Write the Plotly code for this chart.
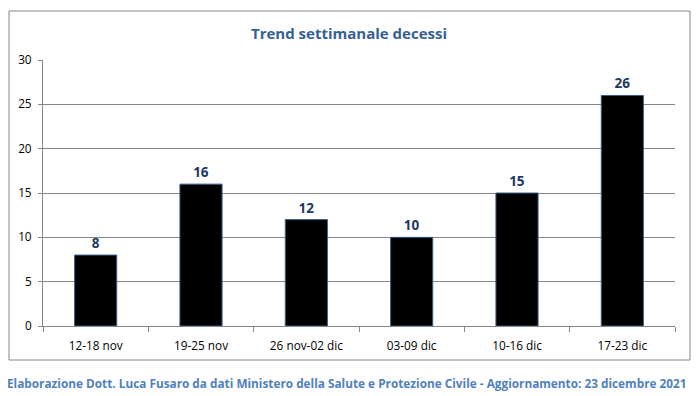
import plotly.graph_objects as go

categories = ["12-18 nov", "19-25 nov", "26 nov-02 dic", "03-09 dic", "10-16 dic", "17-23 dic"]
deaths = [8, 16, 12, 10, 15, 26]
y_ticks = [0, 5, 10, 15, 20, 25, 30]

FONT = "Open Sans"
OFF = 8  # default page body margin
W, H = 700 - OFF, 396 - OFF
L, R, T, B = 43 - OFF, 700 - 675, 60 - OFF, 396 - 326
pw, ph = W - L - R, H - T - B

def px_x(x):
    return (x - OFF - L) / pw

def px_y(y):
    return (H - B - (y - OFF)) / ph

fig = go.Figure(go.Bar(
    x=categories, y=deaths,
    marker=dict(color="#000000", line=dict(color="#385d8a", width=1)),
    text=[str(v) for v in deaths], textposition="outside",
    textfont=dict(family=FONT, size=13.5, color="#1f3864", weight="bold"),
    cliponaxis=False,
))

fig.update_layout(
    width=W, height=H,
    margin=dict(l=L, r=R, t=T, b=B, autoexpand=False),
    paper_bgcolor="white", plot_bgcolor="white",
    bargap=0.6, showlegend=False,
    font=dict(family=FONT, size=11, color="#000000"),
)
fig.update_xaxes(
    automargin=False,
    showline=True, linecolor="#868686", linewidth=1,
    ticks="outside", tickson="boundaries", ticklen=5, tickcolor="#868686",
    ticklabelstandoff=9,
    showgrid=False, tickfont=dict(family=FONT, size=11.8, color="#000000"),
)
fig.update_yaxes(
    automargin=False,
    range=[0, 30], tickvals=y_ticks, showline=True, linecolor="#868686", linewidth=1,
    ticks="outside", ticklen=4, tickcolor="#868686",
    ticklabelstandoff=4,
    showgrid=True, gridcolor="#868686", gridwidth=1, zeroline=False,
    tickfont=dict(family=FONT, size=11.8, color="#000000"),
)

fig.add_shape(type="rect", xref="paper", yref="paper",
              x0=px_x(9), x1=px_x(690), y0=px_y(360), y1=px_y(11),
              line=dict(color="#868686", width=1), fillcolor="rgba(0,0,0,0)", layer="below")

fig.add_annotation(text="<b>Trend settimanale decessi</b>", xref="paper", yref="paper",
                   x=px_x(349), y=px_y(33), showarrow=False, xanchor="center", yanchor="middle",
                   font=dict(family=FONT, size=15, color="#376092"))
fig.add_annotation(text="<b>Elaborazione Dott. Luca Fusaro da dati Ministero della Salute e Protezione Civile - Aggiornamento: 23 dicembre 2021</b>",
                   xref="paper", yref="paper", x=px_x(347), y=px_y(383), showarrow=False,
                   xanchor="center", yanchor="middle",
                   font=dict(family=FONT, size=11.8, color="#4f81bd"))

fig.write_html("out.html")
